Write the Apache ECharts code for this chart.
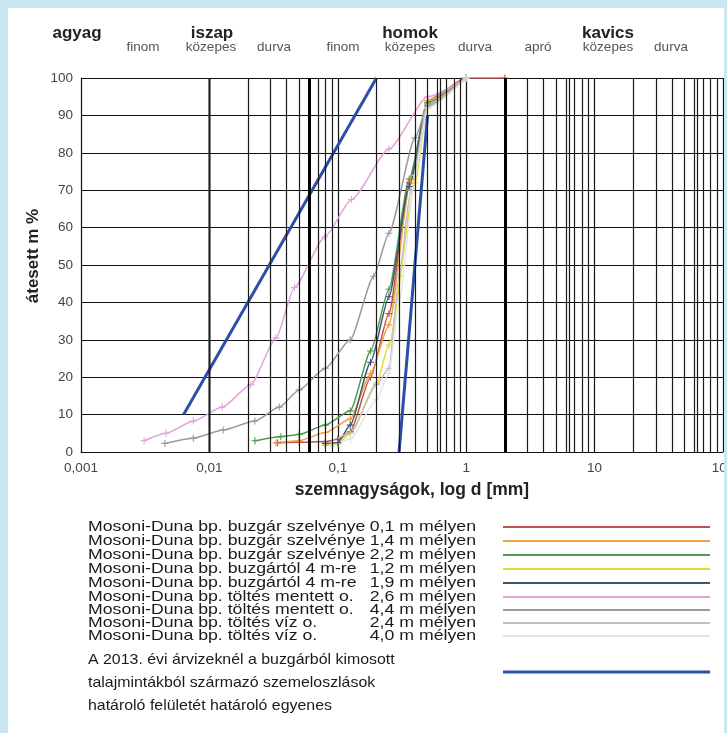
<!DOCTYPE html>
<html>
<head>
<meta charset="utf-8">
<script src="https://cdn.jsdelivr.net/npm/echarts@6/dist/echarts.min.js"></script>
<style>
html,body{margin:0;padding:0;background:#c9e7f3;}
#chart{width:727px;height:733px;}
</style>
</head>
<body>
<div id="chart"></div>
<script>
// ---------- DATA ----------
const xTickLabels = ['0,001', '0,01', '0,1', '1', '10', '100'];
const minorGridLines = [
  0.003, 0.004, 0.005, 0.006, 0.0063, 0.007, 0.008, 0.009,
  0.02, 0.03, 0.04, 0.05, 0.06, 0.07, 0.08, 0.09,
  0.2, 0.3, 0.4, 0.5, 0.6, 0.63, 0.7, 0.8, 0.9,
  3, 4, 5, 6, 6.3, 7, 8, 9,
  20, 30, 40, 50, 60, 63, 70, 80, 90
];
const boundaryGridLines = [0.002, 0.063, 2];

const headMain = ['agyag', 'iszap', 'homok', 'kavics'];
const headSub = ['finom', 'közepes', 'durva', 'finom', 'közepes', 'durva', 'apró', 'közepes', 'durva'];

const legendLeft = [
  'Mosoni-Duna bp. buzgár szelvénye',
  'Mosoni-Duna bp. buzgár szelvénye',
  'Mosoni-Duna bp. buzgár szelvénye',
  'Mosoni-Duna bp. buzgártól 4 m-re',
  'Mosoni-Duna bp. buzgártól 4 m-re',
  'Mosoni-Duna bp. töltés mentett o.',
  'Mosoni-Duna bp. töltés mentett o.',
  'Mosoni-Duna bp. töltés víz o.',
  'Mosoni-Duna bp. töltés víz o.'
];
const legendDepth = ['0,1 m mélyen', '1,4 m mélyen', '2,2 m mélyen', '1,2 m mélyen', '1,9 m mélyen',
  '2,6 m mélyen', '4,4 m mélyen', '2,4 m mélyen', '4,0 m mélyen'];
const boundaryText = [
  'A 2013. évi árvizeknél a buzgárból kimosott',
  'talajmintákból származó szemeloszlások',
  'határoló felületét határoló egyenes'
];

// grain size [mm], passing %
const s01 = [[0.034,2.5],[0.05,2.6],[0.08,2.8],[0.1,3.4],[0.125,5.4],[0.18,20],[0.25,37],[0.36,72],[0.5,94],[1,100],[2,100]];
const s14 = [[0.033,2.4],[0.05,3.0],[0.08,5.2],[0.125,8.8],[0.18,21],[0.25,34],[0.37,73],[0.5,94],[1,100]];
const s22 = [[0.0226,3.0],[0.036,4.1],[0.05,4.7],[0.08,7.2],[0.125,11],[0.18,27],[0.25,43.5],[0.36,73],[0.5,93.5],[1,100]];
const s12 = [[0.08,1.9],[0.1,2.2],[0.125,5],[0.2,18.4],[0.25,28.6],[0.4,72],[0.5,92],[1,100]];
const s19 = [[0.08,2.3],[0.1,2.5],[0.125,7.2],[0.18,24],[0.25,41.5],[0.36,71],[0.5,93],[1,100]];
const s26 = [[0.0031,3],[0.0046,5],[0.0075,8.3],[0.0126,12],[0.021,18],[0.033,30.5],[0.046,44],[0.079,57.5],[0.128,67.5],[0.25,81],[0.5,95],[1,100]];
const s44 = [[0.0045,2.3],[0.0075,3.7],[0.0128,5.9],[0.0226,8.3],[0.035,12],[0.05,16.6],[0.08,22.4],[0.125,30],[0.19,47],[0.25,58.5],[0.4,84],[0.5,92.5],[1,100]];
const s24 = [[0.08,1.8],[0.125,5],[0.2,18],[0.25,22.4],[0.3,47],[0.37,70],[0.5,93],[1,100]];
const s40 = [[0.09,1.5],[0.125,3.5],[0.2,14],[0.25,21],[0.3,40],[0.4,74],[0.5,92],[1,100]];
const bound1 = [[0.0063,10],[0.2,100]];
const bound2 = [[0.3,0],[0.5,90]];

const sampleData = [s01, s14, s22, s12, s19, s26, s44, s24, s40];

// ---------- STYLE ----------
const sampleColors = ['#c0504d', '#f0a040', '#4e9a4e', '#e6dc2e', '#3d5775', '#e2a2da', '#9a9a9a', '#c0c0c0', '#e4e4e4'];
const blue = '#2b4fa8';
const plusPath = 'path://M0,4.2H10V5.8H0Z M4.2,0H5.8V10H4.2Z';
const FONT = '"Liberation Sans", Arial, sans-serif';

const chart = echarts.init(document.getElementById('chart'), null, {renderer: 'canvas'});

const series = [];
series.push({
  type: 'line', data: [], z: 1, silent: true,
  markLine: {
    silent: true, symbol: 'none', label: {show: false}, animation: false,
    lineStyle: {color: '#1a1a1a', width: 1.2, type: 'solid'},
    emphasis: {disabled: true},
    data: minorGridLines.map(v => ({xAxis: v}))
  }
});
series.push({
  type: 'line', data: [], z: 1, silent: true,
  markLine: {
    silent: true, symbol: 'none', label: {show: false}, animation: false,
    lineStyle: {color: '#000', width: 3, type: 'solid'},
    emphasis: {disabled: true},
    data: boundaryGridLines.map(v => ({xAxis: v}))
  }
});
sampleData.forEach((d, i) => {
  series.push({
    name: legendLeft[i] + ' ' + legendDepth[i],
    type: 'line', data: d, z: 3,
    smooth: 0.2, smoothMonotone: 'x',
    symbol: plusPath, symbolSize: 7,
    itemStyle: {color: sampleColors[i]},
    lineStyle: {color: sampleColors[i], width: 1.5}
  });
});
[bound1, bound2].forEach(d => {
  series.push({
    name: boundaryText.join(' '),
    type: 'line', data: d, z: 4, symbol: 'none',
    lineStyle: {color: blue, width: 3}
  });
});

// ---------- GRAPHIC TEXTS ----------
const graphics = [];
graphics.push({type: 'rect', z: -10, shape: {x: 8, y: 8, width: 716, height: 725}, style: {fill: '#ffffff'}});
graphics.push({type: 'rect', z: 100, shape: {x: 724, y: 0, width: 3, height: 733}, style: {fill: '#c9e7f3'}});

const mainX = [77, 212, 410, 608];
headMain.forEach((t, i) => graphics.push({type: 'text', x: mainX[i], y: 33, style: {text: t, font: 'bold 17px ' + FONT, fill: '#222', align: 'center', verticalAlign: 'middle'}}));
const subX = [143, 211, 274, 343, 410, 475, 538, 608, 671];
headSub.forEach((t, i) => graphics.push({type: 'text', x: subX[i], y: 47, style: {text: t, font: '13.5px ' + FONT, fill: '#555', align: 'center', verticalAlign: 'middle'}}));

graphics.push({type: 'text', x: 33, y: 256, rotation: Math.PI / 2, style: {text: 'átesett m %', font: 'bold 17px ' + FONT, fill: '#222', align: 'center', verticalAlign: 'middle'}});
graphics.push({type: 'text', x: 412, y: 490, style: {text: 'szemnagyságok, log d [mm]', font: 'bold 17.5px ' + FONT, fill: '#222', align: 'center', verticalAlign: 'middle'}});

const rowY = [527, 541, 555, 569, 583, 597, 610, 623, 636];
const legFont = '15px ' + FONT;
legendLeft.forEach((t, i) => {
  const y = rowY[i];
  graphics.push({type: 'text', x: 88, y: y, scaleX: 1.18, style: {text: t, font: legFont, fill: '#1a1a1a', align: 'left', verticalAlign: 'middle'}});
  graphics.push({type: 'text', x: 476, y: y, scaleX: 1.18, style: {text: legendDepth[i], font: legFont, fill: '#1a1a1a', align: 'right', verticalAlign: 'middle'}});
  graphics.push({type: 'line', shape: {x1: 503, y1: y, x2: 710, y2: y}, style: {stroke: sampleColors[i], lineWidth: 2}});
});
const paraY = [660, 683, 706];
boundaryText.forEach((t, i) => graphics.push({type: 'text', x: 88, y: paraY[i], scaleX: 1.06, style: {text: t, font: legFont, fill: '#1a1a1a', align: 'left', verticalAlign: 'middle'}}));
graphics.push({type: 'line', shape: {x1: 503, y1: 672, x2: 710, y2: 672}, style: {stroke: blue, lineWidth: 3}});

const option = {
  backgroundColor: '#c9e7f3',
  animation: false,
  textStyle: {fontFamily: FONT},
  grid: {left: 81, top: 78, width: 642, height: 374, containLabel: false, outerBoundsMode: 'none'},
  xAxis: {
    type: 'log', logBase: 10, min: 0.001, max: 100,
    axisLine: {show: true, lineStyle: {color: '#111', width: 1}},
    axisTick: {show: false},
    splitLine: {show: true, lineStyle: {color: '#111', width: 1.2}},
    axisLabel: {
      color: '#444', fontSize: 13.5, margin: 9, fontFamily: FONT,
      formatter: v => xTickLabels[Math.round(Math.log10(v)) + 3]
    }
  },
  yAxis: {
    type: 'value', min: 0, max: 100, interval: 10,
    axisLine: {show: true, lineStyle: {color: '#111', width: 1}},
    axisTick: {show: false},
    splitLine: {show: true, lineStyle: {color: '#111', width: 1.2}},
    axisLabel: {color: '#444', fontSize: 13.5, margin: 8, fontFamily: FONT}
  },
  graphic: {elements: graphics},
  series: series
};
chart.setOption(option);
</script>
</body>
</html>
